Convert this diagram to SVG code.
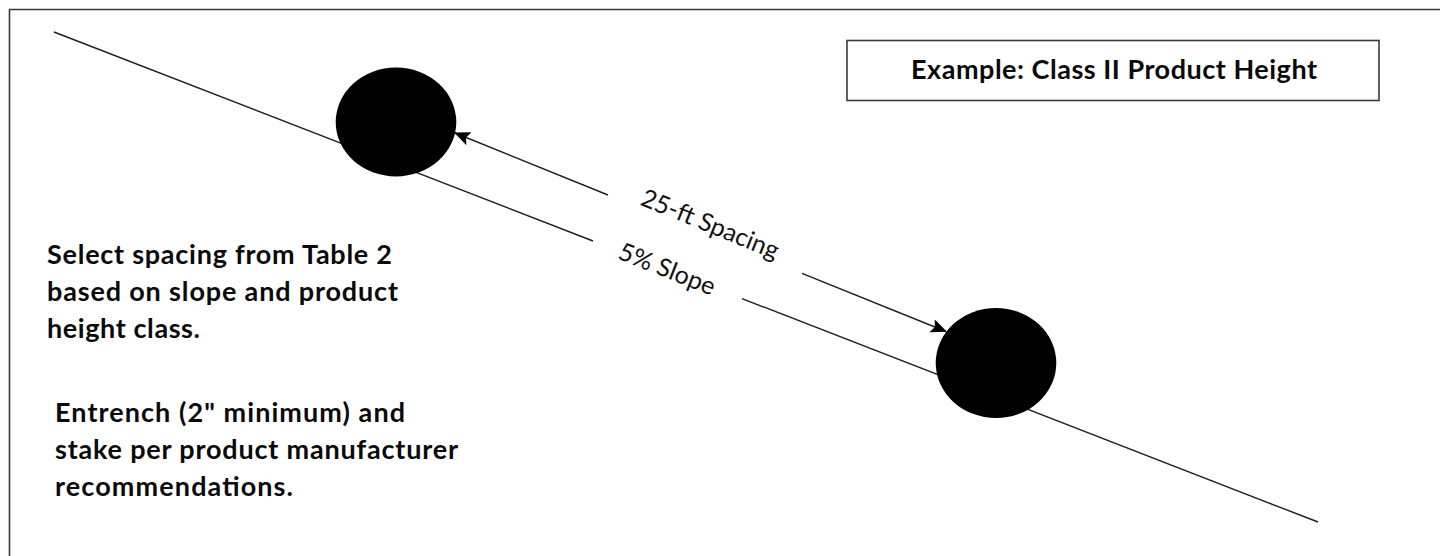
<svg xmlns="http://www.w3.org/2000/svg" width="1440" height="556" viewBox="0 0 1440 556">
  <defs>
    <style>
      .frame { fill: none; stroke: #3a3a3a; stroke-width: 1.6; }
      .line { fill: none; stroke: #1e1e1e; stroke-width: 1.4; }
      .post { fill: #000; }
      .note { font-family: Lato, "Liberation Sans", sans-serif; font-weight: bold; font-size: 27px; fill: #0a0a0a; }
      .tag { font-family: Lato, "Liberation Sans", sans-serif; font-size: 25px; fill: #111; }
    </style>
    <marker id="head" viewBox="0 0 16 14" refX="15" refY="7" markerWidth="16" markerHeight="14" markerUnits="userSpaceOnUse" orient="auto-start-reverse">
      <path d="M0,0 L16,7 L0,14 L3,7 Z" fill="#000"/>
    </marker>
  </defs>

  <rect width="1440" height="556" fill="#fff"/>

  <!-- page frame, open to the right and bottom -->
  <path class="frame" d="M9.5,556 V9.5 H1440"/>

  <g id="connectors">
    <!-- ground slope line, broken around its label -->
    <path id="slope-line" class="line" d="M54,32 L593,241 M742,298.6 L1318,522"/>
    <!-- spacing dimension, broken around its label -->
    <path id="spacing-left" class="line" d="M608,195 L455,133" marker-end="url(#head)"/>
    <path id="spacing-right" class="line" d="M802,273.3 L946,331.5" marker-end="url(#head)"/>
  </g>

  <g id="post-upper">
    <ellipse class="post" cx="396" cy="122" rx="60.3" ry="54.5"/>
  </g>

  <g id="post-lower">
    <ellipse class="post" cx="996" cy="363" rx="60.3" ry="55"/>
  </g>

  <g id="spacing-label">
    <text class="tag" x="707" y="232" text-anchor="middle" transform="rotate(22.1 707 232)">25-ft Spacing</text>
  </g>

  <g id="slope-label">
    <text class="tag" x="664" y="277" text-anchor="middle" transform="rotate(21.6 664 277)">5% Slope</text>
  </g>

  <g id="title-box">
    <rect class="frame" x="847" y="40.5" width="532" height="60"/>
    <text class="note" x="1114" y="79" text-anchor="middle" textLength="406">Example: Class II Product Height</text>
  </g>

  <g id="note-spacing">
    <text class="note" x="47" y="264" textLength="345">Select spacing from Table 2</text>
    <text class="note" x="47" y="301" textLength="351">based on slope and product</text>
    <text class="note" x="47" y="338" textLength="153">height class.</text>
  </g>

  <g id="note-entrench">
    <text class="note" x="55" y="422" textLength="350">Entrench (2" minimum) and</text>
    <text class="note" x="55" y="459" textLength="403">stake per product manufacturer</text>
    <text class="note" x="55" y="496" textLength="238">recommendations.</text>
  </g>
</svg>
